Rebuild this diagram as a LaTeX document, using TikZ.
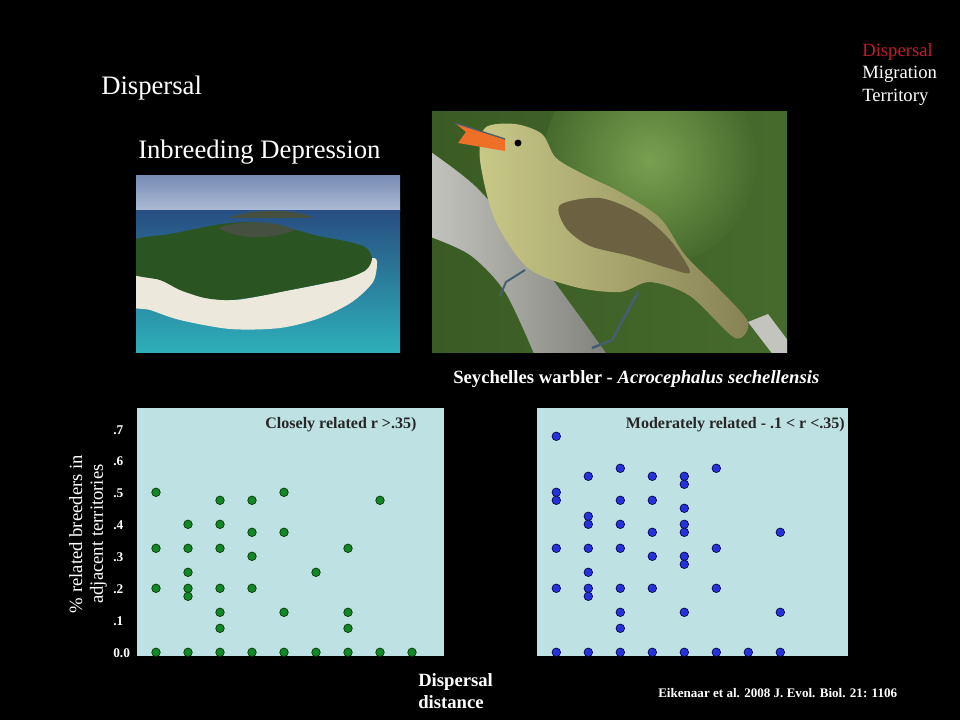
\documentclass[tikz,border=0pt]{standalone}
\usepackage{fontspec}
\setmainfont{Liberation Serif}
\usepackage{tikz}
\usepackage{xcolor}
\usetikzlibrary{calc}
\usetikzlibrary{positioning}

\definecolor{panelblue}{RGB}{190,225,228}
\definecolor{menured}{RGB}{190,30,42}
\definecolor{greendot}{RGB}{22,134,42}
\definecolor{bluedot}{RGB}{38,50,226}
\definecolor{skytop}{RGB}{120,140,180}
\definecolor{skylow}{RGB}{175,190,215}
\definecolor{seadeep}{RGB}{40,78,130}
\definecolor{seaturq}{RGB}{45,175,185}
\definecolor{sand}{RGB}{236,232,220}
\definecolor{forest}{RGB}{42,84,34}
\definecolor{rock}{RGB}{70,80,65}
\definecolor{leafdark}{RGB}{58,92,36}
\definecolor{leaflight}{RGB}{120,160,80}
\definecolor{bark}{RGB}{196,196,190}
\definecolor{barkdark}{RGB}{130,130,125}
\definecolor{olive}{RGB}{135,130,85}
\definecolor{throat}{RGB}{200,200,135}
\definecolor{wingbrown}{RGB}{108,98,66}
\definecolor{beak}{RGB}{238,112,40}
\definecolor{legblue}{RGB}{70,95,110}

\tikzset{
  txt/.style={inner sep=0pt, anchor=base west, text=white},
  charttitle/.style={inner sep=0pt, anchor=base east, text=black!85,
    font=\bfseries\fontsize{12}{14}\selectfont},
  ticklbl/.style={inner sep=0pt, anchor=base west, text=white,
    font=\bfseries\fontsize{10}{11}\selectfont},
  gdot/.style={fill=greendot, draw=black!80!green, line width=0.5pt},
  bdot/.style={fill=bluedot, draw=black!80!blue, line width=0.5pt}
}

\begin{document}
\begin{tikzpicture}[x=0.75pt,y=-0.75pt]
\useasboundingbox (0,0) rectangle (960,720);
\fill[black] (0,0) rectangle (960,720);

% titles and menu
\node[txt, font=\fontsize{20}{24}\selectfont] (title) at (101,95) {Dispersal};
\node[txt, font=\fontsize{20}{24}\selectfont] (inbreed) at (138,159) {Inbreeding Depression};
\node[txt, text=menured, font=\fontsize{14}{16}\selectfont] (menuA) at (862,56.7) {Dispersal};
\node[txt, font=\fontsize{14}{16}\selectfont] (menuB) at (862,78.3) {Migration};
\node[txt, font=\fontsize{14}{16}\selectfont] (menuC) at (862,101.7) {Territory};

% island photo
\begin{scope}
\clip (136,176) rectangle (400,352);
\shade[top color=skytop, bottom color=skylow] (136,176) rectangle (400,212);
\shade[top color=seadeep, bottom color=seaturq] (136,211) rectangle (400,352);
\fill[rock] (228,218) .. controls (250,209) and (295,208) .. (314,218) -- cycle;
\fill[white!85!seaturq] (136,247) -- (190,242) -- (190,245) -- (136,252) -- cycle;
\fill[sand] plot[smooth cycle] coordinates {(128,264) (160,278) (200,296) (235,300) (280,292) (330,282) (360,270) (372,258) (377,262) (373,282) (352,302) (320,318) (280,328) (230,329) (180,320) (150,310) (128,304)};
\fill[forest] plot[smooth cycle] coordinates {(128,242) (170,234) (200,228) (222,224) (250,222) (278,226) (300,231) (318,236) (345,241) (365,247) (372,258) (366,270) (345,279) (320,284) (290,290) (260,296) (230,300) (205,298) (180,290) (160,280) (128,272)};
\fill[rock] (218,228) .. controls (240,220) and (275,220) .. (295,230) .. controls (270,240) and (240,240) .. cycle;
\end{scope}

% warbler photo
\begin{scope}
\clip (432,112) rectangle (787,352);
\shade[left color=leafdark, right color=leafdark!80!leaflight] (432,112) rectangle (787,352);
\shade[inner color=leaflight, outer color=leafdark!80!leaflight] (650,160) circle (80pt);
\shade[left color=bark, right color=barkdark] plot[smooth] coordinates {(428,150) (475,186) (525,243) (575,310) (608,356)} -- (535,356) -- plot[smooth] coordinates {(535,356) (505,292) (470,255) (428,236)} -- cycle;
\fill[bark] (748,322) -- (768,314) -- (792,346) -- (792,356) -- (774,356) -- cycle;
\shade[left color=throat, right color=olive] plot[smooth cycle] coordinates {(485,128) (515,124) (542,134) (556,158) (585,175) (620,192) (660,218) (685,255) (720,290) (748,322) (735,338) (690,296) (650,282) (620,292) (575,287) (528,268) (495,220) (480,160)};
\fill[wingbrown] plot[smooth cycle] coordinates {(560,205) (600,198) (640,214) (670,240) (690,272) (668,268) (630,256) (590,246) (566,228)};
\fill[beak] (505,139) -- (455,123) -- (466,132) -- (458,143) -- (505,151) -- cycle;
\draw[legblue, line width=1pt] (505,139) -- (455,123);
\fill[black] (518,143) circle (2.6pt);
\draw[legblue, line width=2pt] (638,292) -- (612,340) -- (592,348);
\draw[legblue, line width=1.5pt] (525,270) -- (506,282) -- (500,296);
\end{scope}

\node[txt, font=\bfseries\fontsize{14}{16}\selectfont] (caption) at (453,383) {Seychelles warbler - \textit{Acrocephalus sechellensis}};

% charts
\fill[panelblue] (137,408) rectangle (444,656);
\fill[panelblue] (537,408) rectangle (848,656);
\node[charttitle] (leftttl) at (416.7,428.3) {Closely related r >.35)};
\node[charttitle] (rightttl) at (845,428.3) {Moderately related - .1 < r <.35)};

\foreach \v/\t in {0/0.0,1/.1,2/.2,3/.3,4/.4,5/.5,6/.6,7/.7}
{
	\node[ticklbl] (tick\v) at (113,657-31.85*\v) {\t};
}

\foreach \c/\k in {1/20,1/13,1/8,1/0, 2/16,2/13,2/10,2/8,2/7,2/0, 3/19,3/16,3/13,3/8,3/5,3/3,3/0,
  4/19,4/15,4/12,4/8,4/0, 5/20,5/15,5/5,5/0, 6/10,6/0, 7/13,7/5,7/3,7/0, 8/19,8/0, 9/0}
{
	\filldraw[gdot] ({124+32*\c},{652.3-8*\k}) circle (3.2pt);
}
\foreach \c/\k in {1/27,1/20,1/19,1/13,1/8,1/0, 2/22,2/17,2/16,2/13,2/10,2/8,2/7,2/0,
  3/23,3/19,3/16,3/13,3/8,3/5,3/3,3/0, 4/22,4/19,4/15,4/12,4/8,4/0,
  5/22,5/21,5/18,5/16,5/15,5/12,5/11,5/5,5/0, 6/23,6/13,6/8,6/0, 7/0, 8/15,8/5,8/0}
{
	\filldraw[bdot] ({524.3+32*\c},{652.3-8*\k}) circle (3.2pt);
}

\node[rotate=90, align=center, inner sep=0pt, text=white, font=\fontsize{14}{15.5}\selectfont] (ylabel) at (88,534) {\% related breeders in\\adjacent territories};
\node[txt, font=\bfseries\fontsize{14}{16}\selectfont] (xlabA) at (418,686.7) {Dispersal};
\node[txt, font=\bfseries\fontsize{14}{16}\selectfont] (xlabB) at (418,708.3) {distance};
\node[txt, font=\bfseries\fontsize{9.8}{11}\selectfont] (source) at (658,697.3) {Eikenaar et al. 2008 J. Evol. Biol. 21: 1106};

\end{tikzpicture}
\end{document}
